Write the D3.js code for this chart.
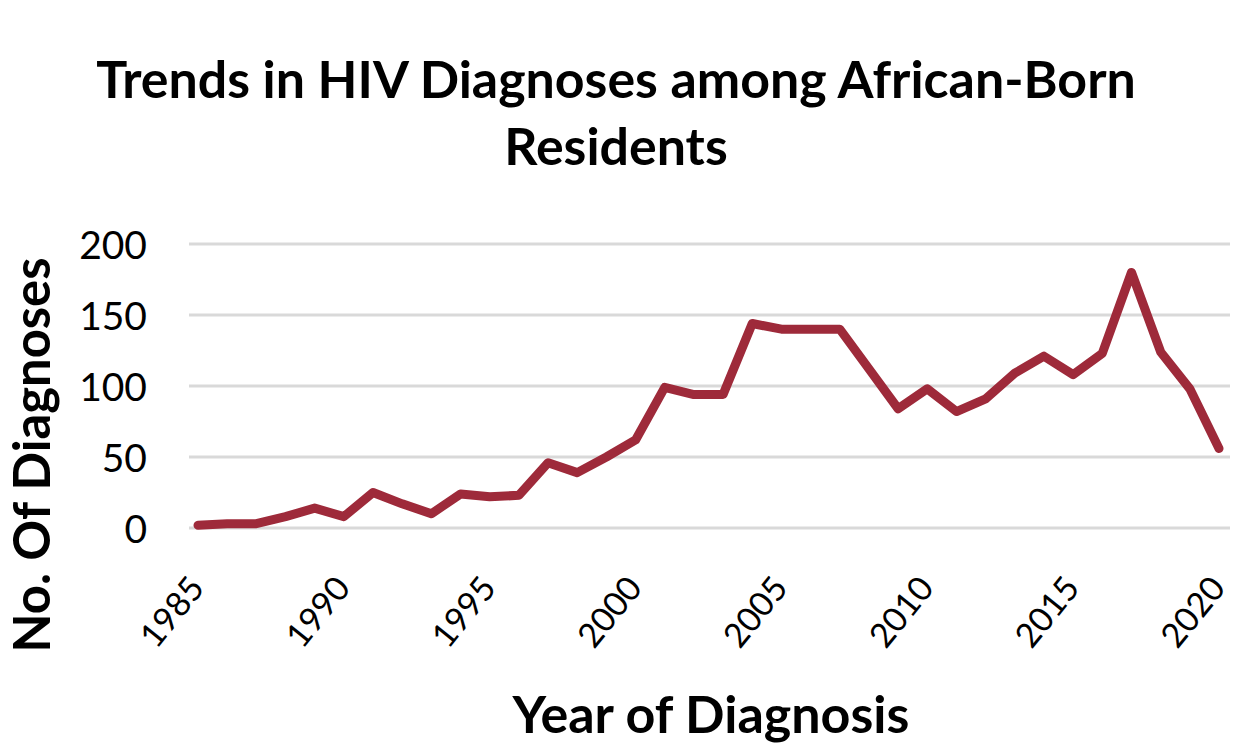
<!DOCTYPE html>
<html><head><meta charset="utf-8">
<script src="https://cdn.jsdelivr.net/npm/d3@7"></script>
<style>body{margin:0;background:#fff;}svg{display:block;}</style>
</head><body>
<svg id="chart" width="1233" height="744"></svg>
<script>
const years = d3.range(1985, 2021);
const diagnoses = [2,3,3,8,14,8,25,17,10,24,22,23,46,39,50,62,99,94,94,144,140,140,140,112,84,98,82,91,109,121,108,123,180,124,98,56];
const yTicks = [0,50,100,150,200];
const xTickYears = [1985,1990,1995,2000,2005,2010,2015,2020];
const titleLines = ["Trends in HIV Diagnoses among African-Born","Residents"];
const yTitle = "No. Of Diagnoses";
const xTitle = "Year of Diagnosis";

const svg = d3.select("#chart");
const font = "Lato, 'Open Sans', sans-serif";
const x = d3.scalePoint().domain(years).range([198,1219]);
const y = d3.scaleLinear().domain([0,200]).range([528,244]);

// gridlines
svg.append("g").selectAll("line").data(yTicks).join("line")
  .attr("x1",189).attr("x2",1230)
  .attr("y1",d=>y(d)).attr("y2",d=>y(d))
  .attr("stroke","#d9d9d9").attr("stroke-width",3);

// y tick labels
const yAxis = d3.axisLeft(y).tickValues(yTicks).tickSize(0).tickPadding(0);
const gy = svg.append("g").attr("transform","translate(147,0)").call(yAxis);
gy.select(".domain").remove();
gy.selectAll("text").attr("font-family",font).attr("font-size",39).attr("fill","#000").attr("dy","0.36em");

// x tick labels
const xAxis = d3.axisBottom(x).tickValues(xTickYears).tickSize(0).tickPadding(0);
const gx = svg.append("g").attr("transform","translate(0,528)").call(xAxis);
gx.select(".domain").remove();
gx.selectAll("text").attr("font-family",font).attr("font-size",34).attr("fill","#000")
  .attr("text-anchor","end").attr("y",0).attr("dy","0.36em")
  .attr("transform","translate(-2,53) rotate(-51)");

// line
svg.append("path").datum(diagnoses.map((v,i)=>[years[i],v]))
  .attr("fill","none").attr("stroke","#9E2A3A").attr("stroke-width",9)
  .attr("stroke-linejoin","round").attr("stroke-linecap","round")
  .attr("d", d3.line().x(d=>x(d[0])).y(d=>y(d[1])));

// title
const t = svg.append("g");
t.selectAll("text").data(titleLines).join("text")
  .attr("x",616).attr("y",(d,i)=>98+i*67)
  .attr("text-anchor","middle").attr("font-family",font).attr("font-weight","bold")
  .attr("font-size",44).attr("fill","#000").text(d=>d);
const tl = t.select("text").node();
const w = tl.getComputedTextLength();
const fs = 44*1040/w;
t.selectAll("text").attr("font-size",fs);

// y title
const yt = svg.append("text").attr("transform","translate(50,455) rotate(-90)")
  .attr("text-anchor","middle").attr("font-family",font).attr("font-weight","bold")
  .attr("font-size",40).attr("fill","#000").text(yTitle);
const ytw = yt.node().getComputedTextLength();
yt.attr("font-size",40*395/ytw);

// x title
const xt = svg.append("text").attr("x",711).attr("y",733)
  .attr("text-anchor","middle").attr("font-family",font).attr("font-weight","bold")
  .attr("font-size",40).attr("fill","#000").text(xTitle);
const xtw = xt.node().getComputedTextLength();
xt.attr("font-size",40*397/xtw);
</script>
</body></html>
